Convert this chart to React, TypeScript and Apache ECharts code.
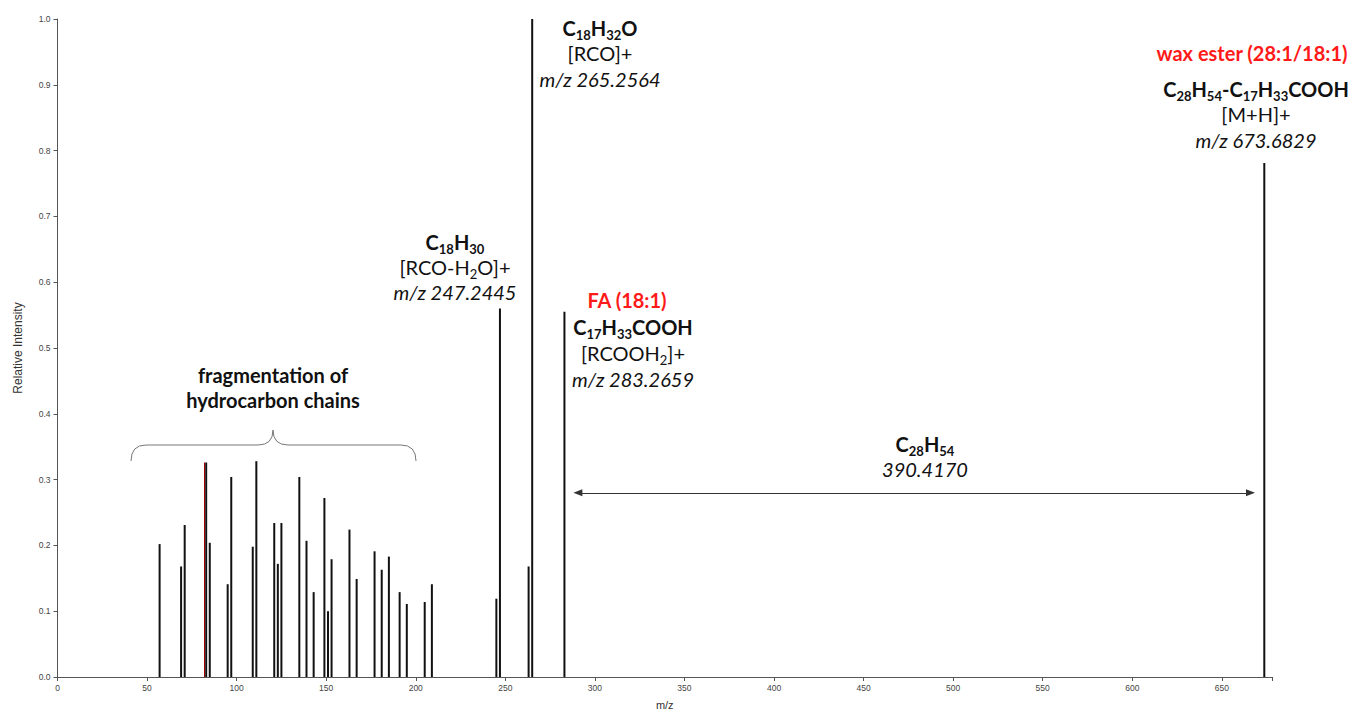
import React, { useEffect, useRef } from "react";
import * as echarts from "echarts";

// ---- data ----
const mzValues: number[] = [
  57, 69, 71, 83, 85, 95, 97, 109, 111, 121, 123, 125, 135, 139, 143, 149, 151,
  153, 163, 167, 177, 181, 185, 191, 195, 205, 209, 245, 247, 263, 265, 283, 673.7,
];
const intensities: number[] = [
  0.202, 0.168, 0.231, 0.326, 0.204, 0.141, 0.304, 0.198, 0.328, 0.234, 0.172,
  0.234, 0.304, 0.207, 0.129, 0.272, 0.1, 0.179, 0.224, 0.149, 0.191, 0.163,
  0.183, 0.129, 0.111, 0.114, 0.141, 0.119, 0.56, 0.168, 1.0, 0.555, 0.781,
];
const highlightMz = 82.2;
const highlightValue = 0.326;
const arrowFrom: [number, number] = [290.5, 0.28];
const arrowTo: [number, number] = [666, 0.28];
const xTickLabels = [0, 50, 100, 150, 200, 250, 300, 350, 400, 450, 500, 550, 600, 650];
const xMax = 678;

const FONT = "Lato, 'Open Sans', sans-serif";
const RED = "#ff1a1a";
const MAIN = 20;
const SUB = 13;

const richStyles = {
  b: { fontSize: MAIN, fontWeight: "bold", fontFamily: FONT, fill: "#111", lineHeight: 26 },
  bs: { fontSize: SUB, fontWeight: "bold", fontFamily: FONT, fill: "#111", lineHeight: 13, verticalAlign: "bottom" },
  n: { fontSize: MAIN, fontFamily: FONT, fill: "#111", lineHeight: 26 },
  ns: { fontSize: SUB, fontFamily: FONT, fill: "#111", lineHeight: 13, verticalAlign: "bottom" },
  i: { fontSize: MAIN, fontStyle: "italic", fontFamily: FONT, fill: "#111", lineHeight: 26 },
  r: { fontSize: MAIN, fontWeight: "bold", fontFamily: FONT, fill: RED, lineHeight: 26 },
};

// formula: alternating main/sub parts, e.g. ["C","18","H","32","O"]
const formula = (parts: string[], bold = true) =>
  parts
    .map((p, k) => (k % 2 === 0 ? `{${bold ? "b" : "n"}|${p}}` : `{${bold ? "bs" : "ns"}|${p}}`))
    .join("");

const txt = (x: number, y: number, text: string) => ({
  type: "text",
  x,
  y,
  silent: true,
  style: {
    text,
    align: "center",
    verticalAlign: "middle",
    rich: richStyles,
  },
});

export default function App() {
  const ref = useRef<HTMLDivElement>(null);
  useEffect(() => {
    if (!ref.current) return;
    echarts.graphic.registerShape(
      "brace",
      echarts.graphic.extendPath(
        "M131,461 Q131,445 146,445 L258,445 Q273,445 273,430 Q273,445 288,445 L401,445 Q416,445 416,461",
        {}
      )
    );
    const chart = echarts.init(ref.current, null, { renderer: "svg" });
    const option: any = {
      animation: false,
      backgroundColor: "#fff",
      grid: { left: 57.5, right: 79, top: 19, bottom: 36, containLabel: false, outerBoundsMode: "none" },
      xAxis: {
        type: "value",
        min: 0,
        max: xMax,
        interval: 50,
        name: "m/z",
        nameLocation: "middle",
        nameGap: 22,
        nameTextStyle: { fontSize: 11, color: "#333", fontFamily: "Liberation Sans, Arial" },
        splitLine: { show: false },
        axisLine: { lineStyle: { color: "#555", width: 1 } },
        axisTick: { show: true, length: 4, lineStyle: { color: "#555" } },
        axisLabel: {
          fontSize: 8.5,
          color: "#444",
          fontFamily: "Liberation Sans, Arial",
          margin: 6,
          formatter: (v: number) => (xTickLabels.includes(v) ? String(v) : ""),
        },
      },
      yAxis: {
        type: "value",
        min: 0,
        max: 1,
        interval: 0.1,
        name: "Relative Intensity",
        nameLocation: "middle",
        nameGap: 34,
        nameRotate: 90,
        nameTextStyle: { fontSize: 12, color: "#333", fontFamily: "Liberation Sans, Arial" },
        splitLine: { show: false },
        axisLine: { show: true, lineStyle: { color: "#555", width: 1 } },
        axisTick: { show: true, length: 4, lineStyle: { color: "#555" } },
        axisLabel: {
          fontSize: 8.5,
          color: "#444",
          fontFamily: "Liberation Sans, Arial",
          margin: 7,
          formatter: (v: number) => v.toFixed(1),
        },
      },
      series: [
        {
          type: "bar",
          barWidth: 2,
          itemStyle: { color: "#111" },
          data: mzValues.map((m, k) => [m, intensities[k]]),
          markLine: {
            silent: true,
            animation: false,
            label: { show: false },
            symbol: ["triangle", "triangle"],
            symbolSize: [7, 9],
            lineStyle: { color: "#333", width: 1, type: "solid" },
            data: [
              [{ coord: arrowFrom }, { coord: arrowTo }],
              [
                {
                  coord: [highlightMz, 0],
                  symbol: "none",
                  lineStyle: { color: "#a00000", width: 1, type: "solid" },
                },
                { coord: [highlightMz, highlightValue], symbol: "none" },
              ],
            ],
          },
        },
      ],
      graphic: [
        { type: "brace", x: 0, y: 0, silent: true, style: { fill: "none", stroke: "#777", lineWidth: 1 } },
        txt(273, 375, "{b|fragmentation of}"),
        txt(273, 400, "{b|hydrocarbon chains}"),
        // 247 peak
        txt(455, 242, formula(["C", "18", "H", "30"])),
        txt(455, 267, "{n|[RCO-H}{ns|2}{n|O]+}"),
        txt(455, 292, "{i|m/z 247.2445}"),
        // 265 peak
        txt(600, 28, formula(["C", "18", "H", "32", "O"])),
        txt(600, 53, "{n|[RCO]+}"),
        txt(600, 79, "{i|m/z 265.2564}"),
        // 283 peak
        txt(627, 300, "{r|FA (18:1)}"),
        txt(633, 327, formula(["C", "17", "H", "33", "COOH"])),
        txt(633, 353, "{n|[RCOOH}{ns|2}{n|]+}"),
        txt(633, 379, "{i|m/z 283.2659}"),
        // neutral loss
        txt(925, 444, formula(["C", "28", "H", "54"])),
        txt(925, 469, "{i|390.4170}"),
        // molecular ion
        txt(1252, 53, "{r|wax ester (28:1/18:1)}"),
        txt(1256, 89, formula(["C", "28", "H", "54", "-C", "17", "H", "33", "COOH"])),
        txt(1256, 114, "{n|[M+H]+}"),
        txt(1256, 140, "{i|m/z 673.6829}"),
      ],
    };
    chart.setOption(option);
    return () => chart.dispose();
  }, []);
  return (
    <div
      ref={ref}
      style={{ position: "fixed", left: 0, top: 0, width: 1351, height: 713, background: "#fff" }}
    />
  );
}
